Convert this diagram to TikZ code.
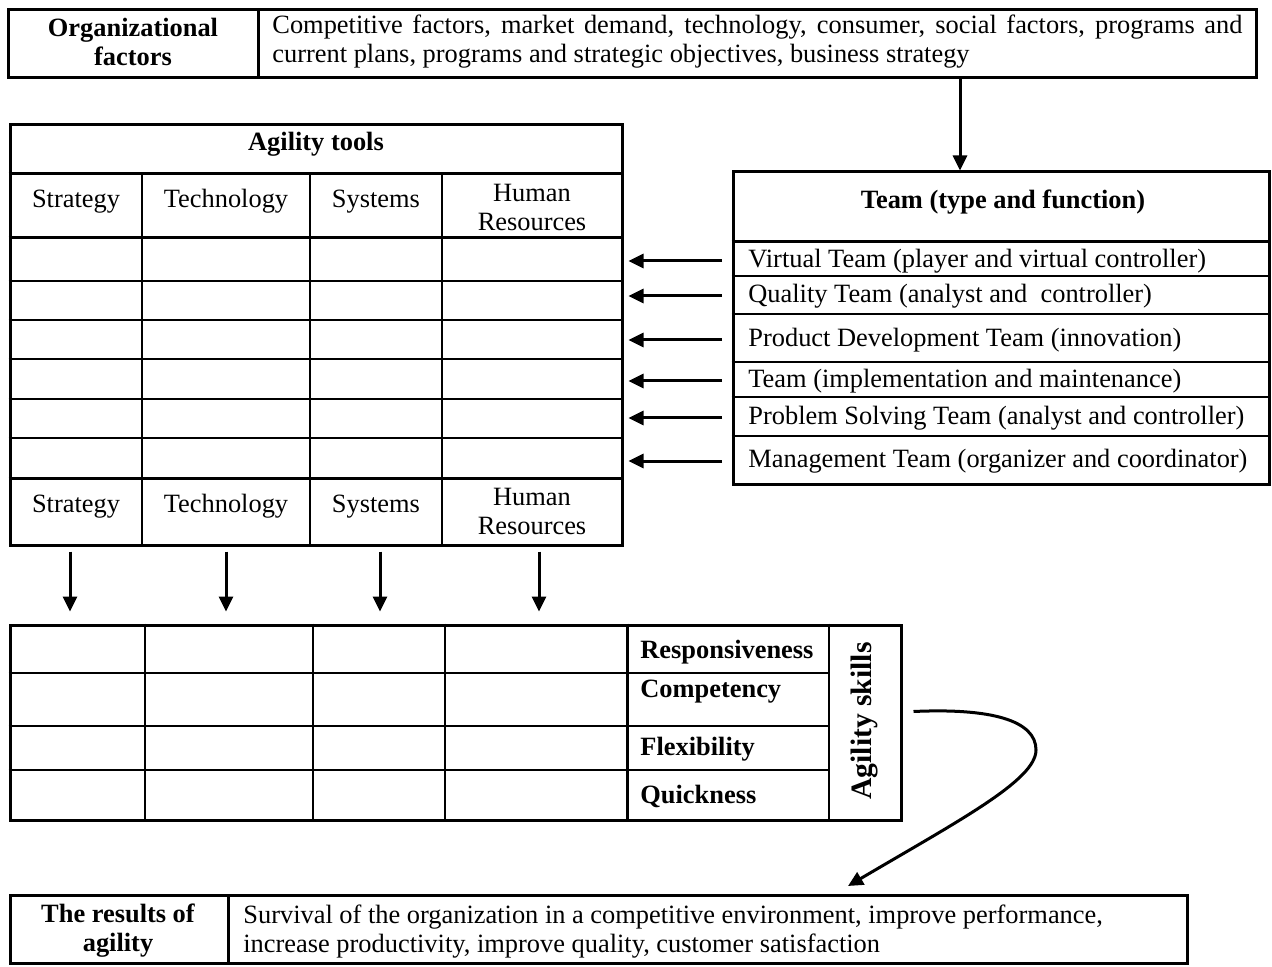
\documentclass[tikz,border=0pt]{standalone}
\usepackage{fontspec}
\setmainfont{Liberation Serif}
\usetikzlibrary{arrows.meta,positioning,calc}

\begin{document}
\begin{tikzpicture}[
  x=0.5pt, y=-0.5pt,
  frame/.style={rectangle, draw, line width=1.5pt, inner sep=0pt},
  outerline/.style={line width=1.5pt},
  innerline/.style={line width=1pt},
  txt/.style={font=\fontsize{13.2}{14.5}\selectfont, inner sep=0pt},
  head/.style={txt, font=\fontsize{13.2}{14.5}\selectfont\bfseries, align=center},
  cell/.style={txt, align=center},
  arr/.style={-{Triangle[length=7.5pt,width=7pt]}, line width=1.5pt}
]
  \useasboundingbox (0,0) rectangle (1272,967);

  % Organizational factors
  \node[frame, minimum width=624pt, minimum height=34pt] (org) at (632,44) {};
  \draw[outerline] (258,0 |- org.north) -- (258,0 |- org.south);
  \node[head] (orgname) at (133,42) {Organizational\\factors};
  \node[txt, anchor=west, text width=485pt, align=justify] (orgtext) at (272,42)
    {Competitive factors, market demand, technology, consumer, social factors, programs and\linebreak
     current plans, programs and strategic objectives, business strategy};

  % Agility tools table
  \node[frame, minimum width=306pt, minimum height=210pt] (tools) at (316,335) {};
  \foreach \y in {174,238,478}
    \draw[outerline] (tools.west |- 0,\y) -- (tools.east |- 0,\y);
  \foreach \y in {281,320,359,399,438}
    \draw[innerline] (tools.west |- 0,\y) -- (tools.east |- 0,\y);
  \foreach \x in {142,310,442}
    \draw[innerline] (\x,174) -- (\x,0 |- tools.south);
  \node[head] (toolsname) at (316,144) {Agility tools};
  \foreach \x/\t [count=\i] in {76/Strategy, 226/Technology, 376/Systems} {
    \node[cell, anchor=base] (hd\i) at (\x,208) {\t};
    \node[cell, anchor=base] (ft\i) at (\x,512) {\t};
  }
  \node[cell] (hd4) at (532,207) {Human\\Resources};
  \node[cell] (ft4) at (532,511) {Human\\Resources};

  % Team (type and function)
  \node[frame, minimum width=268pt, minimum height=156pt] (team) at (1001,328) {};
  \draw[outerline] (team.west |- 0,242) -- (team.east |- 0,242);
  \foreach \y in {276,314,362,397,436}
    \draw[innerline] (team.west |- 0,\y) -- (team.east |- 0,\y);
  \node[head] (teamname) at (1003,202) {Team (type and function)};
  \foreach \y/\t [count=\i] in {
      261/{Virtual Team (player and virtual controller)},
      296/{Quality Team (analyst and\ \ controller)},
      340/{Product Development Team (innovation)},
      381/{Team (implementation and maintenance)},
      418/{Problem Solving Team (analyst and controller)},
      461/{Management Team (organizer and coordinator)}} {
    \node[txt, anchor=west] (tm\i) at (748,\y) {\t};
    \draw[arr, shorten <=13pt, shorten >=2.5pt] (tm\i.west) -- (tm\i.west -| tools.east);
  }

  % Agility skills table
  \node[frame, minimum width=445.5pt, minimum height=97.5pt] (skills) at (455.5,722.5) {};
  \foreach \y in {673,726,770}
    \draw[innerline] (skills.west |- 0,\y) -- (829,\y);
  \foreach \x in {145,313,445}
    \draw[innerline] (\x,0 |- skills.north) -- (\x,0 |- skills.south);
  \draw[outerline] (627,0 |- skills.north) -- (627,0 |- skills.south);
  \draw[line width=1.2pt] (829,0 |- skills.north) -- (829,0 |- skills.south);
  \node[head, anchor=west] (resp) at (640,652) {Responsiveness};
  \node[head, anchor=west] (comp) at (640,692) {Competency};
  \node[head, anchor=west] (flex) at (640,749) {Flexibility};
  \node[head, anchor=west] (quick) at (640,796) {Quickness};
  \node[head, rotate=90, font=\fontsize{14.8}{16}\selectfont\bfseries] (skillname) at (864,721) {Agility skills};

  % Results of agility
  \node[frame, minimum width=588.5pt, minimum height=34pt] (res) at (598.5,929.5) {};
  \draw[outerline] (228,0 |- res.north) -- (228,0 |- res.south);
  \node[head] (resname) at (118,931) {The results of\\agility};
  \node[txt, anchor=west, align=left] (restext) at (243,932)
    {Survival of the organization in a competitive environment, improve performance,\\
     increase productivity, improve quality, customer satisfaction};

  % Arrows
  \coordinate (feed) at (960,0);
  \draw[arr] (feed |- org.south) -- (feed |- team.north);
  \foreach \x in {70,226,380,539}
    \draw[arr, shorten <=2.5pt, shorten >=6pt] (\x,0 |- tools.south) -- (\x,0 |- skills.north);
  \coordinate (bend) at (1036,750);
  \draw[arr] ([shift={(11,-11)}]skills.east) .. controls (990,708) and (1036,720) .. (bend)
    .. controls (1036,780) and (960,820) .. (848,886);
\end{tikzpicture}
\end{document}
